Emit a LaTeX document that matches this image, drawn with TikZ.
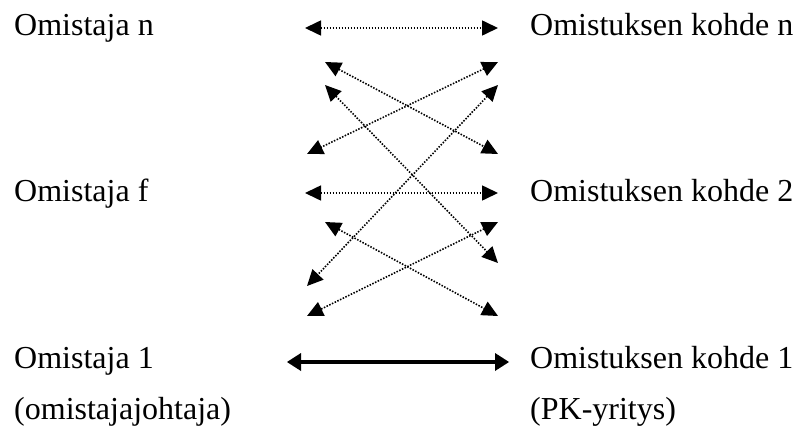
\documentclass[tikz,border=0pt]{standalone}
\usepackage{fontspec}
\setmainfont{Liberation Serif}
\usetikzlibrary{arrows.meta}
\begin{document}
\begin{tikzpicture}[x=1pt,y=-1pt,
  lbl/.style={anchor=base west,inner sep=0pt,font=\fontsize{32}{36}\selectfont},
  dotarrow/.style={line width=1.6pt,dash pattern=on 1.5pt off 1.5pt,
    {Triangle[length=16pt,width=15pt]}-{Triangle[length=16pt,width=15pt]}},
  thickarrow/.style={line width=4pt,
    {Triangle[length=14pt,width=18pt,line width=0pt]}-{Triangle[length=14pt,width=18pt,line width=0pt]}}]
\useasboundingbox (0,0) rectangle (799,428);
% labels
\node[lbl] (on) at (14,36) {Omistaja n};
\node[lbl] (of) at (14,201) {Omistaja f};
\node[lbl] (o1) at (14,368) {Omistaja 1};
\node[lbl] (oj) at (14,419) {(omistajajohtaja)};
\node[lbl] (kn) at (530,36) {Omistuksen kohde n};
\node[lbl] (k2) at (530,201) {Omistuksen kohde 2};
\node[lbl] (k1) at (530,368) {Omistuksen kohde 1};
\node[lbl] (pk) at (530,419) {(PK-yritys)};
% arrow end points
\coordinate (hnL) at (305,28);  \coordinate (hnR) at (498,28);
\coordinate (hfL) at (305,193); \coordinate (hfR) at (498,193);
\coordinate (h1L) at (287,362); \coordinate (h1R) at (509,362);
\coordinate (a1) at (325,62);  \coordinate (b1) at (498,154);
\coordinate (a2) at (498,62);  \coordinate (b2) at (307,154);
\coordinate (a3) at (325,85);  \coordinate (b3) at (498,263);
\coordinate (a4) at (498,85);  \coordinate (b4) at (307,286);
\coordinate (a5) at (325,222); \coordinate (b5) at (498,316);
\coordinate (a6) at (498,222); \coordinate (b6) at (307,316);
% arrows
\draw[dotarrow] (hnL) -- (hnR);
\draw[dotarrow] (hfL) -- (hfR);
\draw[thickarrow] (h1L) -- (h1R);
\draw[dotarrow] (a1) -- (b1);
\draw[dotarrow] (a2) -- (b2);
\draw[dotarrow] (a3) -- (b3);
\draw[dotarrow] (a4) -- (b4);
\draw[dotarrow] (a5) -- (b5);
\draw[dotarrow] (a6) -- (b6);
\end{tikzpicture}
\end{document}
